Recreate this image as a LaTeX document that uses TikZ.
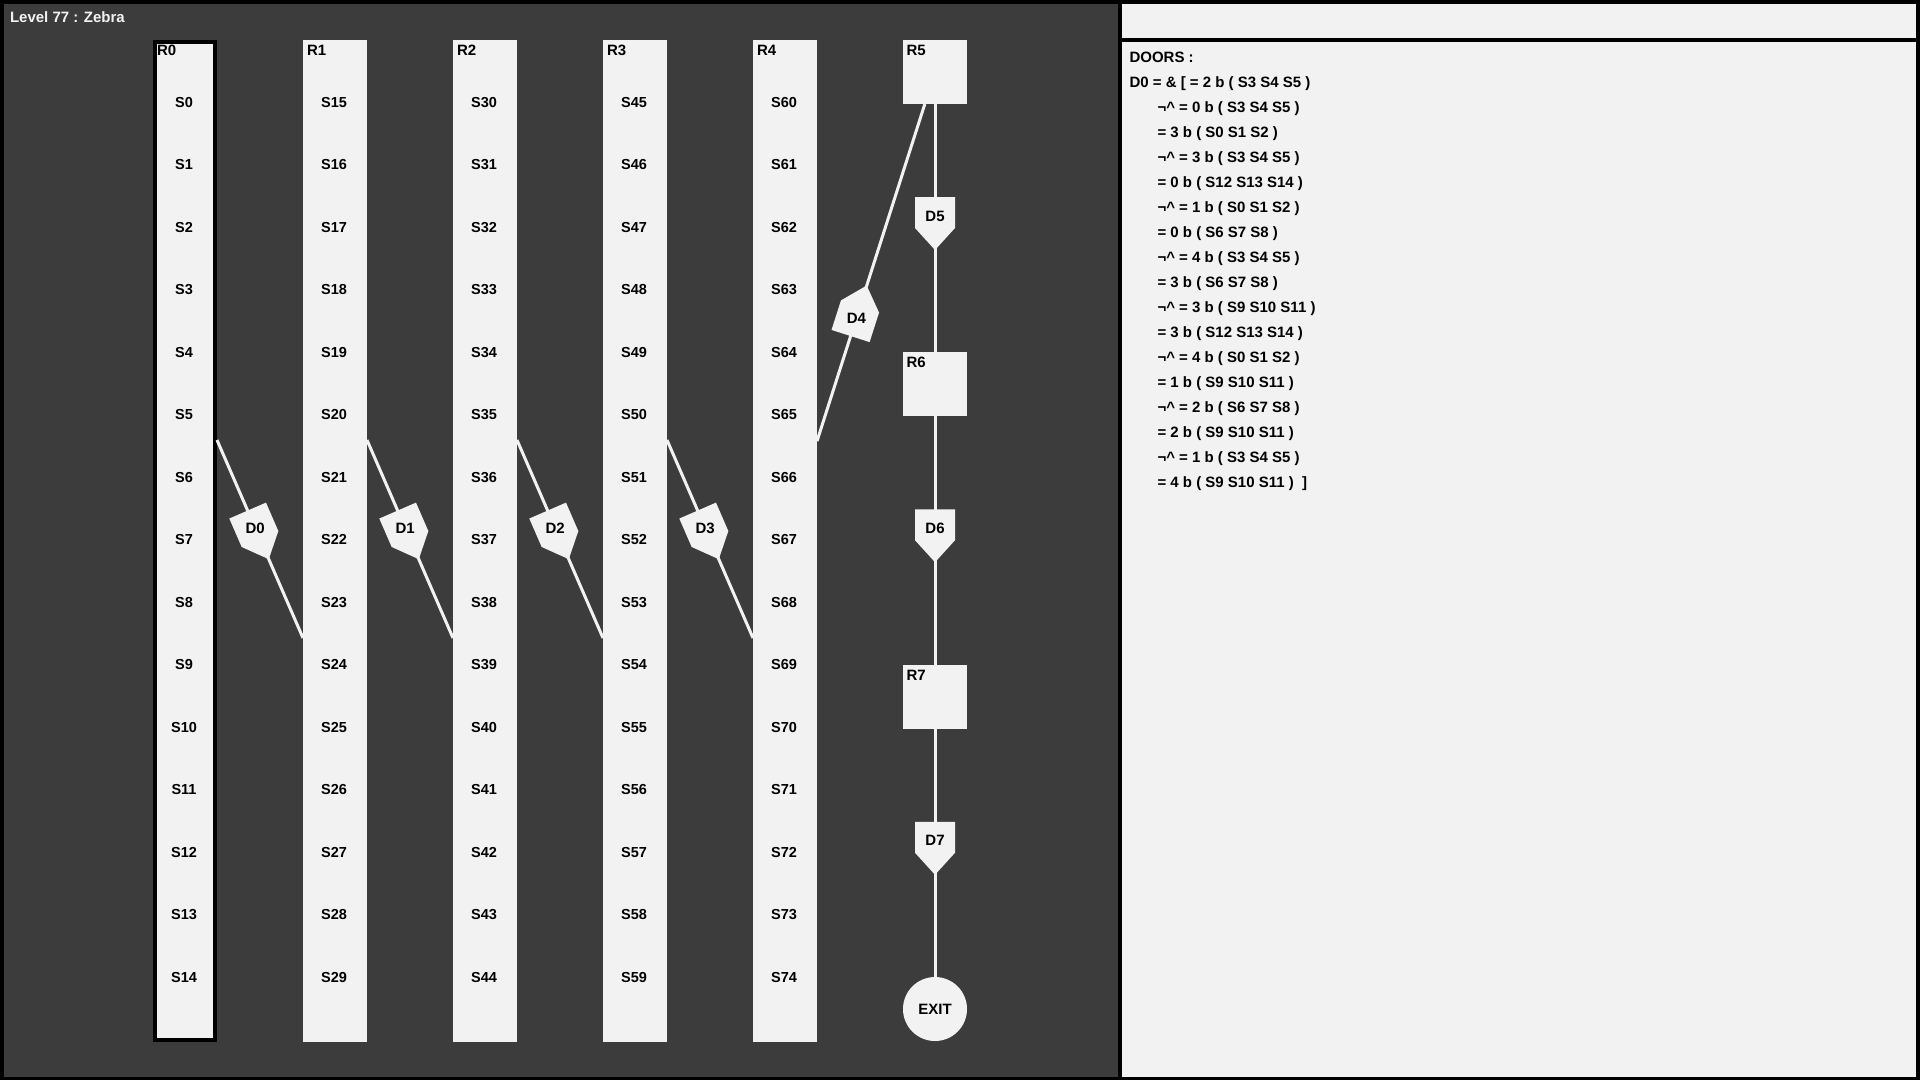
\documentclass[tikz,border=0pt]{standalone}
\usepackage{fontspec}
\setmainfont{Liberation Sans}
\usetikzlibrary{calc}
\definecolor{panel}{RGB}{60,60,60}
\definecolor{paper}{RGB}{242,242,242}

% door: pentagon centred on #1, pointing towards #2, labelled #3, label node named #4
\newcommand\doorshape[4]{%
  \fill[paper] ($(#1)!36.89pt!147.17:(#2)$) -- ($(#1)!20pt!90:(#2)$)
    -- ($(#1)!22pt!(#2)$) -- ($(#1)!20pt!-90:(#2)$)
    -- ($(#1)!36.89pt!-147.17:(#2)$) -- cycle;
  \node[doorlabel] (#4) at ($(#1)!-12pt!(#2)$) {#3};
}
\newcommand\negcaret{¬\textasciicircum}

\begin{document}
\begin{tikzpicture}[x=1pt,y=-1pt,
  every node/.style={inner sep=0pt, outer sep=0pt, font=\bfseries\fontsize{15}{18}\selectfont},
  tall/.style={fill=paper, minimum width=64pt, minimum height=1002pt},
  sel/.style={fill=paper, draw=black, line width=4pt, minimum width=60pt, minimum height=998pt},
  small/.style={fill=paper, minimum width=64pt, minimum height=64pt},
  exitnode/.style={circle, fill=paper, minimum size=64pt},
  link/.style={draw=paper, line width=3pt},
  roomlabel/.style={anchor=base west, font=\bfseries\fontsize{15}{18}\selectfont},
  slot/.style={anchor=base, font=\bfseries\fontsize{14.5}{17}\selectfont},
  doorlabel/.style={font=\bfseries\fontsize{15}{18}\selectfont},
  info/.style={anchor=base west},
]
\useasboundingbox (0,0) rectangle (1920,1080);

% frame and panels
\fill[black] (0,0) rectangle (1920,1080);
\fill[panel] (4,4) rectangle (1118,1077);
\fill[paper] (1122,4) rectangle (1916,38);
\fill[paper] (1122,42) rectangle (1916,1077);

\node[anchor=base west, text=paper, font=\bfseries\fontsize{15}{18}\selectfont] (title) at (10,22) {Level 77 : Zebra};

% tall rooms with their slots
\node[sel] (r0) at (185,541) {};
\foreach \i in {1,...,4} \node[tall] (r\i) at (185+150*\i,541) {};
\foreach \i in {0,...,4} \node[roomlabel] (r\i-name) at (157+150*\i,55.5) {R\i};
\foreach \i in {0,...,4} \foreach \k in {0,...,14} {
  \pgfmathtruncatemacro\n{15*\i+\k}
  \node[slot] (s\n) at (184+150*\i,107+62.5*\k) {S\n};
}

% small rooms and exit
\node[small] (r5) at (935,72) {};
\node[small] (r6) at (935,384) {};
\node[small] (r7) at (935,696.5) {};
\node[exitnode] (exit) at (935,1009) {};
\node (exit-name) at (935,1009) {EXIT};
\node[roomlabel] (r5-name) at (906.5,55.5) {R5};
\node[roomlabel] (r6-name) at (906.5,367.5) {R6};
\node[roomlabel] (r7-name) at (906.5,680) {R7};

% doors between neighbouring tall rooms
\foreach \i in {0,...,3} {
  \coordinate (d\i-a) at (217+150*\i,440);
  \coordinate (d\i-b) at (303+150*\i,638);
  \coordinate (d\i) at ($(d\i-a)!0.5!(d\i-b)$);
  \draw[link] (d\i-a) -- (d\i-b);
  \doorshape{d\i}{d\i-b}{D\i}{d\i-name}
}

% doors along the small rooms
\draw[link] (r4) -- (r5);
\coordinate (d4) at ($(r4)!0.5!(r5)$);
\doorshape{d4}{r5}{D4}{d4-name}

\draw[link] (r5) -- (r6);
\coordinate (d5) at ($(r5)!0.5!(r6)$);
\doorshape{d5}{r6}{D5}{d5-name}

\draw[link] (r6) -- (r7);
\coordinate (d6) at ($(r6)!0.5!(r7)$);
\doorshape{d6}{r7}{D6}{d6-name}

\draw[link] (r7) -- (exit);
\coordinate (d7) at ($(r7)!0.5!(exit)$);
\doorshape{d7}{exit}{D7}{d7-name}

% door conditions
\node[info] (l0) at (1129.5,62.3) {DOORS :};
\node[info] (l1) at (1129.5,87.3) {D0 = \& [ = 2 b ( S3 S4 S5 )};
\node[info] (l2) at (1157.5,112.3) {\negcaret{} = 0 b ( S3 S4 S5 )};
\node[info] (l3) at (1157.5,137.3) {= 3 b ( S0 S1 S2 )};
\node[info] (l4) at (1157.5,162.3) {\negcaret{} = 3 b ( S3 S4 S5 )};
\node[info] (l5) at (1157.5,187.3) {= 0 b ( S12 S13 S14 )};
\node[info] (l6) at (1157.5,212.3) {\negcaret{} = 1 b ( S0 S1 S2 )};
\node[info] (l7) at (1157.5,237.3) {= 0 b ( S6 S7 S8 )};
\node[info] (l8) at (1157.5,262.3) {\negcaret{} = 4 b ( S3 S4 S5 )};
\node[info] (l9) at (1157.5,287.3) {= 3 b ( S6 S7 S8 )};
\node[info] (l10) at (1157.5,312.3) {\negcaret{} = 3 b ( S9 S10 S11 )};
\node[info] (l11) at (1157.5,337.3) {= 3 b ( S12 S13 S14 )};
\node[info] (l12) at (1157.5,362.3) {\negcaret{} = 4 b ( S0 S1 S2 )};
\node[info] (l13) at (1157.5,387.3) {= 1 b ( S9 S10 S11 )};
\node[info] (l14) at (1157.5,412.3) {\negcaret{} = 2 b ( S6 S7 S8 )};
\node[info] (l15) at (1157.5,437.3) {= 2 b ( S9 S10 S11 )};
\node[info] (l16) at (1157.5,462.3) {\negcaret{} = 1 b ( S3 S4 S5 )};
\node[info] (l17) at (1157.5,487.3) {= 4 b ( S9 S10 S11 ) \ ]};
\end{tikzpicture}
\end{document}
